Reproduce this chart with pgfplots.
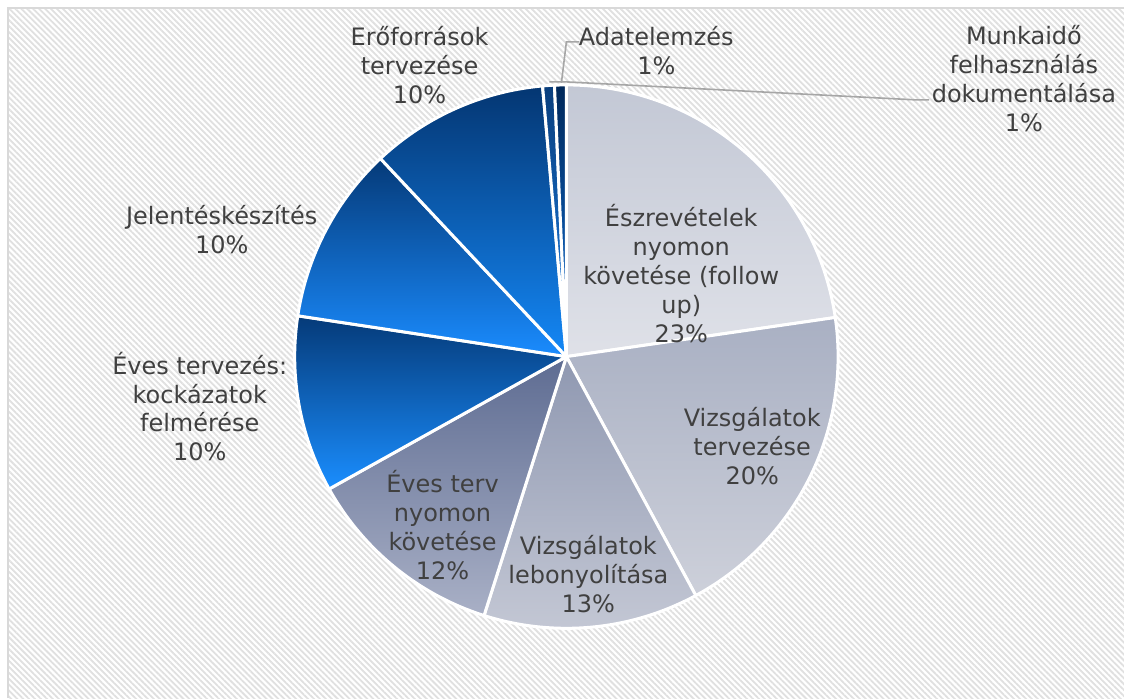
\documentclass[border=0pt]{standalone}
\usepackage{pgfplots}
\pgfplotsset{compat=1.18}
\usepackage{pgfplotstable}
\usepackage{fontspec}
\setmainfont{DejaVu Sans}
\usetikzlibrary{patterns.meta}

\definecolor{txt}{HTML}{404040}
\definecolor{leader}{HTML}{A6A6A6}
\definecolor{frame}{HTML}{D9D9D9}
\definecolor{hatch}{HTML}{E0E0E0}
\definecolor{c1t}{HTML}{C3C8D5}\definecolor{c1b}{HTML}{DFE1E8}
\definecolor{c2t}{HTML}{A9B0C3}\definecolor{c2b}{HTML}{CDD0DA}
\definecolor{c3t}{HTML}{8F98B1}\definecolor{c3b}{HTML}{C3C7D4}
\definecolor{c4t}{HTML}{5E6C92}\definecolor{c4b}{HTML}{A9B0C6}
\definecolor{c5t}{HTML}{053A78}\definecolor{c5b}{HTML}{1A8EFF}
\definecolor{c6t}{HTML}{053A78}\definecolor{c6b}{HTML}{1A8CFF}
\definecolor{c7t}{HTML}{043672}\definecolor{c7b}{HTML}{1488F7}
\definecolor{c8t}{HTML}{0A3E7C}\definecolor{c8b}{HTML}{1A80E8}
\definecolor{c9t}{HTML}{00285A}\definecolor{c9b}{HTML}{1070D8}

% slices, clockwise from 12 o'clock
\pgfplotstableread{
idx value
0 22.7
1 19.4
2 12.8
3 12.0
4 10.5
5 10.6
6 10.6
7 0.7
8 0.7
}\piedata

\newcommand\slice[3]{%
  \edef\tmp{\noexpand\addplot[draw=white, line width=1.5pt, line join=round,
    top color=#2, bottom color=#3,
    domain=\csname ang\the\numexpr#1+1\relax\endcsname:\csname ang#1\endcsname,
    samples=90]}%
  \tmp ({567+272*cos(x)},{342+272*sin(x)}) -- (axis cs:567,342) -- cycle;
}

\begin{document}
\begin{tikzpicture}
\def\cum{0}
\expandafter\def\csname ang0\endcsname{90}
\pgfplotsforeachungrouped \i in {0,...,8}{%
  \pgfplotstablegetelem{\i}{value}\of\piedata
  \pgfmathsetmacro\cum{\cum+\pgfplotsretval}%
  \pgfmathtruncatemacro\j{\i+1}%
  \pgfmathsetmacro\tmpa{90-3.6*\cum}%
  \expandafter\let\csname ang\j\endcsname\tmpa
}
\fill[white] (0,0) rectangle (562.5pt,349.5pt);
\fill[pattern={Lines[angle=-45, distance=2.1pt, line width=0.9pt]}, pattern color=hatch] (4pt,0) rectangle (562.5pt,345.5pt);
\draw[frame, line width=1.2pt] (4pt,0) -- (4pt,345.5pt) -- (562.5pt,345.5pt);
\begin{axis}[at={(0,0)}, anchor=south west, width=562.5pt, height=349.5pt,
  scale only axis, xmin=0, xmax=1125, ymin=0, ymax=699, hide axis, clip=false]
\slice{0}{c1t}{c1b}
\slice{1}{c2t}{c2b}
\slice{2}{c3t}{c3b}
\slice{3}{c4t}{c4b}
\slice{4}{c5t}{c5b}
\slice{5}{c6t}{c6b}
\slice{6}{c7t}{c7b}
\slice{7}{c8t}{c8b}
\slice{8}{c9t}{c9b}
\addplot[leader, line width=0.8pt] coordinates {(580,657) (567,657) (562,616)};
\addplot[leader, line width=0.8pt] coordinates {(550,617) (567,617) (917,599) (930,599)};
\begin{scope}[every node/.style={align=center, text=txt, font=\fontsize{12}{14.5}\selectfont}]
\node at (axis cs:682,425.5) {Észrevételek\\nyomon\\követése (follow\\up)\\23\%};
\node at (axis cs:753,252.5) {Vizsgálatok\\tervezése\\20\%};
\node at (axis cs:589,124) {Vizsgálatok\\lebonyolítása\\13\%};
\node at (axis cs:443,173) {Éves terv\\nyomon\\követése\\12\%};
\node at (axis cs:200,292) {Éves tervezés:\\kockázatok\\felmérése\\10\%};
\node at (axis cs:222,469) {Jelentéskészítés\\10\%};
\node at (axis cs:420,634) {Erőforrások\\tervezése\\10\%};
\node at (axis cs:657,648.5) {Adatelemzés\\1\%};
\node at (axis cs:1025,620) {Munkaidő\\felhasználás\\dokumentálása\\1\%};
\end{scope}
\end{axis}
\end{tikzpicture}
\end{document}
